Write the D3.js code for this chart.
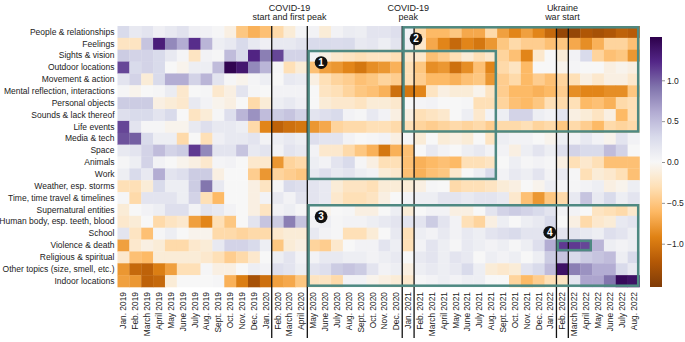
<!DOCTYPE html>
<html><head><meta charset="utf-8">
<script src="https://cdn.jsdelivr.net/npm/d3@7"></script>
<style>
body{margin:0;background:#fff}
svg{display:block}
text{font-family:"Liberation Sans", Arial, sans-serif;fill:#222}
</style>
</head><body>
<svg id="chart" width="685" height="342"></svg>
<script>
// ---------- data ----------
const categories = ["People & relationships","Feelings","Sights & vision","Outdoor locations","Movement & action",
  "Mental reflection, interactions","Personal objects","Sounds & lack thereof","Life events","Media & tech","Space",
  "Animals","Work","Weather, esp. storms","Time, time travel & timelines","Supernatural entities",
  "Human body, esp. teeth, blood","School","Violence & death","Religious & spiritual","Other topics (size, smell, etc.)",
  "Indoor locations"];

const months = ["Jan. 2019","Feb. 2019","March 2019","April 2019","May 2019","June 2019","July 2019","Aug. 2019","Sept. 2019","Oct. 2019","Nov. 2019","Dec. 2019",
  "Jan. 2020","Feb. 2020","March 2020","April 2020","May 2020","June 2020","July 2020","Aug. 2020","Sept. 2020","Oct. 2020","Nov. 2020","Dec. 2020",
  "Jan. 2021","Feb. 2021","March 2021","April 2021","May 2021","June 2021","July 2021","Aug. 2021","Sept. 2021","Oct. 2021","Nov. 2021","Dec. 2021",
  "Jan. 2022","Feb. 2022","March 2022","April 2022","May 2022","June 2022","July 2022","Aug. 2022"];

const peopleRelationships = [0.3,0.15,0.2,0.08,0.15,0.22,0.08,0.06,0.02,-0.1,-0.5,-0.65,-0.55,-0.35,-0.15,0.03,0.05,-0.15,0.05,0.12,0.1,0.2,0.2,0.25,0.05,-0.35,-0.6,-0.6,-0.5,-0.7,-0.7,-0.35,-0.75,-0.9,-0.75,-0.9,-1.1,-1.4,-1.4,-1.25,-1.3,-1.25,-1.15,-1.2];
const feelings = [-0.25,-0.25,0.45,1.3,0.8,0.6,1.2,0.55,0.1,0.15,0.3,0.15,0.08,0.15,0.15,0.2,0.3,0.3,0.28,0.3,0.15,0.18,0.1,0.2,0.08,-0.2,-0.7,-0.9,-1.1,-0.9,-1.0,-0.8,-0.5,-0.35,-0.45,-0.45,-0.55,-0.5,-0.7,-0.85,-0.65,-0.4,-0.4,-0.55];
const sightsVision = [0.4,0.35,0.35,0.3,0.15,0.03,-0.25,0.05,0.02,0.5,0.3,1.25,0.85,1.1,0.35,0.35,0.05,-0.1,-0.2,-0.25,-0.3,-0.25,-0.25,-0.3,-0.2,-0.2,-0.55,-0.45,-0.3,-0.15,-0.3,-0.2,-0.4,-0.55,-0.9,-0.2,0.0,-0.15,0.05,0.3,-0.4,-0.55,-0.5,-0.8];
const outdoorLocations = [1.1,0.3,0.35,0.3,0.0,-0.05,0.1,0.1,0.5,1.5,1.35,0.8,0.55,0.02,-0.3,-0.15,-0.55,-0.75,-0.8,-0.9,-1.0,-0.85,-0.8,-0.65,-0.3,-0.5,-0.85,-0.8,-1.05,-0.85,-0.55,-0.9,-0.35,-0.25,-0.6,0.0,0.0,-0.05,0.03,0.0,0.0,-0.1,-0.05,-0.1];
const movementAction = [0.2,0.35,-0.15,0.3,0.6,0.6,0.35,0.55,0.2,0.02,-0.05,0.03,0.1,0.0,0.15,0.12,-0.1,-0.3,-0.4,-0.45,-0.55,-0.5,-0.4,-0.45,-0.3,-0.45,-0.6,-0.6,-0.65,-0.55,-0.5,-0.8,-0.45,-0.35,-0.6,-0.45,-0.55,-0.4,-0.3,-0.1,-0.2,-0.1,-0.1,-0.2];
const mentalReflection = [0.02,-0.05,0.0,0.02,0.12,-0.2,0.0,0.02,-0.2,-0.1,0.2,0.02,0.0,0.05,0.05,0.05,0.0,-0.25,-0.3,-0.4,-0.5,-0.55,-0.65,-1.05,-1.0,-0.9,-0.25,-0.1,-0.15,-0.15,-0.05,-0.25,-0.45,-0.6,-0.6,-0.65,-0.6,-0.45,-0.85,-0.9,-0.9,-0.85,-0.85,-0.5];
const personalObjects = [0.4,0.4,0.4,-0.1,-0.15,-0.2,0.15,0.05,-0.05,-0.1,0.0,-0.35,-0.15,0.1,0.15,0.08,0.0,-0.15,-0.2,-0.2,-0.25,-0.15,-0.15,-0.2,0.0,0.03,0.05,0.0,0.0,0.02,-0.3,-0.3,-0.4,-0.55,-0.6,-0.5,-0.3,-0.35,-0.3,-0.6,-0.55,-0.65,-0.35,-0.3];
const sounds = [0.25,0.3,0.3,0.2,0.3,0.0,-0.25,-0.15,0.02,0.25,0.55,0.75,0.5,0.4,0.45,0.35,0.2,0.25,0.3,0.05,0.02,0.15,0.05,-0.1,-0.1,-0.3,-0.25,-0.2,0.0,0.1,-0.2,0.05,0.1,0.35,0.35,0.1,0.05,0.2,-0.1,-0.15,-0.25,-0.1,-0.6,-0.3];
const lifeEvents = [1.1,0.2,0.02,0.02,-0.05,-0.05,0.15,0.25,0.15,0.15,0.1,-0.35,-0.9,-1.15,-1.05,-1.0,-0.8,-0.7,-0.4,-0.35,-0.35,-0.3,-0.3,-0.35,-0.3,-0.4,-0.45,-0.4,-0.35,-0.4,-0.35,-0.45,-0.35,-0.35,-0.3,-0.4,-0.35,-0.5,-0.35,-0.45,-0.6,-0.35,-0.4,-0.35];
const mediaTech = [1.05,1.0,0.3,0.1,0.1,-0.35,0.0,-0.3,0.08,0.15,0.15,0.2,0.05,0.1,0.15,0.1,0.25,0.2,0.2,0.05,0.0,0.02,0.05,-0.1,0.02,-0.15,0.0,-0.15,-0.1,-0.15,0.0,-0.25,0.1,0.05,0.05,0.0,-0.05,0.1,0.05,0.15,0.05,-0.05,0.2,0.05];
const spaceTopic = [0.15,0.2,0.35,0.5,0.35,0.4,1.15,0.8,0.2,0.2,0.45,0.15,0.2,0.05,0.2,0.15,0.05,-0.2,-0.2,-0.35,-0.5,-0.65,-1.0,-0.65,-0.55,0.0,0.15,0.05,0.0,0.1,0.15,0.05,0.05,-0.1,0.1,0.2,0.1,0.25,0.35,0.3,0.3,0.5,0.35,0.0];
const animals = [0.02,0.1,0.35,0.05,0.0,-0.05,-0.1,-0.2,0.03,0.05,0.0,-0.2,-0.2,-0.8,-0.4,-0.35,0.1,0.05,0.2,0.3,0.02,-0.1,-0.3,-0.3,-0.55,-0.65,-0.6,-0.55,-0.6,-0.3,-0.3,-0.25,0.0,0.1,0.02,0.05,0.02,-0.1,-0.3,-0.2,-0.3,-0.55,-0.55,-0.55];
const work = [0.1,0.3,0.15,0.6,0.2,0.25,0.4,0.4,-0.1,0.0,0.0,-0.45,-0.8,-0.4,-0.45,-0.5,0.15,0.25,0.15,0.2,0.1,0.05,-0.15,-0.2,-0.55,-0.65,-0.55,-0.5,-0.2,0.0,0.1,0.3,0.05,0.15,0.1,0.2,0.05,0.15,0.02,-0.3,-0.15,-0.2,-0.3,-0.55];
const weather = [-0.3,-0.3,-0.15,0.3,0.1,0.1,0.4,0.9,0.15,0.0,0.0,-0.1,-0.25,0.02,0.3,0.25,0.2,0.15,-0.15,-0.25,-0.25,-0.3,-0.15,-0.15,-0.15,-0.1,0.02,0.0,-0.35,-0.3,-0.3,-0.25,-0.15,-0.1,0.0,-0.05,0.1,0.02,0.02,0.05,0.1,-0.1,-0.05,0.1];
const timeTravel = [0.02,-0.35,0.2,0.2,0.2,0.1,0.35,-0.3,-0.6,0.0,0.0,-0.1,0.05,0.15,0.05,0.2,0.2,0.15,-0.2,-0.3,-0.3,-0.25,-0.1,0.0,0.05,0.1,0.1,0.2,0.2,0.15,0.2,0.2,0.15,-0.2,-0.55,-0.8,-0.5,-0.35,0.15,0.45,0.15,0.3,0.1,0.2];
const supernatural = [-0.15,0.0,0.05,0.1,0.25,0.25,0.05,0.2,0.15,0.05,0.0,-0.1,-0.25,0.05,0.1,0.02,0.0,-0.05,0.0,0.02,-0.1,-0.1,0.0,0.1,-0.15,0.0,0.05,0.05,-0.1,-0.1,0.0,0.2,0.35,0.4,0.35,0.3,0.2,0.05,0.05,0.0,-0.25,-0.3,-0.35,-0.2];
const humanBody = [-0.2,-0.15,0.0,-0.35,-0.25,-0.2,-0.75,-0.9,-0.3,-0.5,0.0,0.2,0.45,0.4,0.85,0.45,0.05,0.1,0.02,0.05,0.05,0.1,0.15,0.2,0.2,0.2,0.4,0.2,0.05,-0.3,-0.4,-0.1,0.1,0.0,0.1,0.15,0.3,0.0,-0.1,-0.35,-0.2,-0.15,0.15,0.2];
const school = [0.2,-0.25,-0.55,0.02,0.1,0.0,-0.05,-0.05,-0.35,-0.35,-0.4,-0.35,-0.35,-0.2,-0.15,-0.15,0.15,0.05,0.02,-0.3,-0.3,-0.15,0.0,0.15,-0.3,0.1,0.05,0.15,0.05,0.15,0.1,0.2,0.25,0.3,0.2,0.2,0.1,0.2,0.2,0.15,0.1,0.25,0.2,0.1];
const violenceDeath = [-0.75,-0.2,-0.1,-0.15,-0.35,-0.35,-0.2,-0.15,0.15,0.35,0.35,0.3,0.1,-0.5,-0.15,-0.1,-0.4,-0.45,-0.2,0.0,0.05,0.05,0.2,0.1,-0.3,0.05,0.2,0.1,0.02,0.15,0.1,0.05,0.1,0.02,0.1,0.25,0.6,1.15,1.15,1.1,0.55,0.1,0.05,0.1];
const religious = [-0.2,-0.55,-0.6,-0.15,-0.15,-0.15,-0.15,-0.2,-0.3,-0.45,-0.35,-0.2,0.0,0.1,0.2,0.05,0.05,0.15,0.15,0.1,0.1,0.05,0.1,0.15,0.0,0.15,0.2,0.1,0.2,0.15,0.0,0.1,0.05,0.1,0.0,0.1,0.4,0.45,0.3,0.4,0.45,0.5,0.1,0.3];
const otherTopics = [-0.8,-1.1,-1.15,-0.95,-0.75,-0.3,-0.3,0.02,-0.1,-0.1,0.0,0.1,0.05,0.25,0.2,0.1,0.2,0.25,0.4,0.45,0.4,0.2,0.05,0.1,-0.1,0.1,0.15,0.1,0.15,0.3,0.1,-0.15,-0.2,-0.15,0.2,0.3,0.5,1.4,0.85,0.75,0.6,0.6,0.3,0.15];
const indoorLocations = [-0.75,-0.8,-1.15,-1.1,-0.15,0.0,0.0,0.0,0.02,-0.65,-0.95,-1.3,-1.05,-0.75,-0.7,-0.5,-0.25,-0.25,-0.35,0.05,0.05,-0.05,-0.1,-0.15,-0.2,0.02,0.05,0.1,0.05,0.1,0.1,0.0,0.0,-0.4,-0.6,-0.45,-0.3,-0.25,0.2,0.65,0.65,0.9,1.45,1.4];

const rowValues = [peopleRelationships, feelings, sightsVision, outdoorLocations, movementAction, mentalReflection,
  personalObjects, sounds, lifeEvents, mediaTech, spaceTopic, animals, work, weather, timeTravel, supernatural,
  humanBody, school, violenceDeath, religious, otherTopics, indoorLocations];

const colorTicks = [-1.0, -0.5, 0.0, 0.5, 1.0];
const colorExtent = 1.53;

// event windows (vertical lines) and labels
const events = [
  {lines: ["COVID-19", "start and first peak"], from: "Feb. 2020", to: "April 2020"},
  {lines: ["COVID-19", "peak"], from: "Jan. 2021", to: "Jan. 2021"},
  {lines: ["Ukraine", "war start"], from: "Feb. 2022", to: "Feb. 2022"}
];

// highlighted regions
const boxes = [
  {id: "1", from: "May 2020", to: "Aug. 2021", first: "Sights & vision", last: "Work", marker: "inside"},
  {id: "2", from: "Jan. 2021", to: "Aug. 2022", first: "People & relationships", last: "Life events", marker: "inside"},
  {id: "3", from: "May 2020", to: "Aug. 2022", first: "Supernatural entities", last: "Indoor locations", marker: "inside"},
  {id: "4", from: "Feb. 2022", to: "April 2022", first: "Violence & death", last: "Violence & death", marker: "outside"}
];

// ---------- layout ----------
const svg = d3.select("#chart");
const gLeft = 117.5, gRight = 639.5, gTop = 26, gBottom = 287;

const x = d3.scaleBand().domain(months).range([gLeft, gRight]);
const y = d3.scaleBand().domain(categories).range([gTop, gBottom]);
// orange for negative, purple for positive (linear ColorBrewer PuOr, reversed)
const orPu = d3.piecewise(d3.interpolateRgb, d3.schemePuOr[11].slice().reverse());
const color = d3.scaleDiverging(orPu).domain([-colorExtent, 0, colorExtent]);

const cells = [];
categories.forEach((c, i) => months.forEach((m, j) => cells.push({c, m, v: rowValues[i][j]})));

svg.append("g").selectAll("rect").data(cells).join("rect")
  .attr("x", d => x(d.m)).attr("y", d => y(d.c))
  .attr("width", x.bandwidth() + 0.3).attr("height", y.bandwidth() + 0.3)
  .attr("fill", d => color(d.v));

// y axis
const yAxis = svg.append("g").attr("transform", `translate(${gLeft},0)`)
  .call(d3.axisLeft(y).tickSize(0).tickPadding(3));
yAxis.select(".domain").remove();
yAxis.selectAll("text").style("font-size", "8.5px").style("font-family", '"Liberation Sans", Arial, sans-serif').attr("fill", "#222");

// x axis
const xAxis = svg.append("g").attr("transform", `translate(0,${gBottom})`)
  .call(d3.axisBottom(x).tickSize(0));
xAxis.select(".domain").remove();
xAxis.selectAll("text")
  .attr("transform", "rotate(-90)")
  .attr("text-anchor", "end")
  .attr("x", -5).attr("y", 0).attr("dy", "0.35em")
  .style("font-size", "8.4px").style("font-family", '"Liberation Sans", Arial, sans-serif').attr("fill", "#222");

// event lines
const evG = svg.append("g");
events.forEach(e => {
  const x0 = x(e.from), x1 = x(e.to) + x.bandwidth();
  [x0, x1].forEach(xx => evG.append("line")
    .attr("x1", xx).attr("x2", xx).attr("y1", gTop).attr("y2", 338)
    .attr("stroke", "#111").attr("stroke-width", 1.3));
  const cx = (x0 + x1) / 2;
  e.lines.forEach((t, k) => evG.append("text")
    .attr("x", cx).attr("y", 10.5 + k * 9.2)
    .attr("text-anchor", "middle").style("font-size", "9px").text(t));
});

// boxes
const boxG = svg.append("g");
const inset = 1.3;
boxes.forEach(b => {
  const bx0 = x(b.from) + inset, bx1 = x(b.to) + x.bandwidth() - inset;
  const by0 = y(b.first) + inset, by1 = y(b.last) + y.bandwidth() - inset;
  boxG.append("rect").attr("x", bx0).attr("y", by0)
    .attr("width", bx1 - bx0).attr("height", by1 - by0)
    .attr("fill", "none").attr("stroke", "#4e8982").attr("stroke-width", 2.5);
  let mx, my;
  if (b.marker === "inside") { mx = bx0 + 12.5; my = by0 + 11.5; }
  else { mx = bx0 - 8; my = by0 - 8.5; }
  boxG.append("circle").attr("cx", mx).attr("cy", my).attr("r", 6.4).attr("fill", "#111");
  boxG.append("text").attr("x", mx).attr("y", my).attr("dy", "0.36em")
    .attr("text-anchor", "middle").style("font-size", "10px").style("font-weight", "bold")
    .style("fill", "#fff").text(b.id);
});

// colorbar
const cbX = 650, cbW = 12, cbTop = 37, cbBottom = 287;
const cbScale = d3.scaleLinear().domain([-colorExtent, colorExtent]).range([cbBottom, cbTop]);
const defs = svg.append("defs");
const grad = defs.append("linearGradient").attr("id", "cbgrad")
  .attr("x1", 0).attr("y1", 1).attr("x2", 0).attr("y2", 0);
d3.range(0, 1.0001, 0.05).forEach(t => grad.append("stop")
  .attr("offset", t).attr("stop-color", orPu(t)));
svg.append("rect").attr("x", cbX).attr("y", cbTop).attr("width", cbW).attr("height", cbBottom - cbTop)
  .attr("fill", "url(#cbgrad)");
const cbAxis = svg.append("g").attr("transform", `translate(${cbX + cbW},0)`)
  .call(d3.axisRight(cbScale).tickValues(colorTicks).tickFormat(d3.format(".1f")).tickSize(3).tickPadding(2));
cbAxis.select(".domain").remove();
cbAxis.selectAll("line").attr("stroke", "#666").attr("stroke-width", 0.7);
cbAxis.selectAll("text").style("font-size", "8.5px").style("font-family", '"Liberation Sans", Arial, sans-serif').attr("fill", "#222");
</script>
</body></html>
